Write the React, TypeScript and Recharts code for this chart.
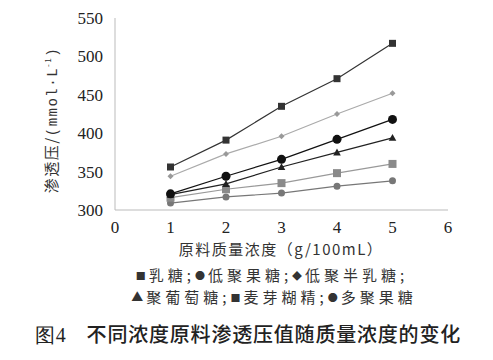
import React from "react";
import { LineChart, Line, XAxis, YAxis } from "recharts";

const concentrations = [1, 2, 3, 4, 5];
const lactose = [356, 391, 435, 471, 517];
const oligoFructose = [309, 317, 322, 331, 338];
const oligoGalactose = [344, 373, 396, 425, 452];
const polyGlucose = [320, 334, 356, 375, 394];
const maltodextrin = [316, 327, 335, 348, 360];
const polyFructose = [321, 344, 366, 392, 418];
const xTicks = [0, 1, 2, 3, 4, 5, 6];
const yTicks = [300, 350, 400, 450, 500, 550];
const legendLine1 = [
  { sym: "■", name: "乳糖", sep: ";" },
  { sym: "●", name: "低聚果糖", sep: ";" },
  { sym: "◆", name: "低聚半乳糖", sep: ";" },
];
const legendLine2 = [
  { sym: "▲", name: "聚葡萄糖", sep: ";" },
  { sym: "■", name: "麦芽糊精", sep: ";" },
  { sym: "●", name: "多聚果糖", sep: "" },
];

const data = concentrations.map((c, i) => ({
  c,
  lactose: lactose[i],
  oligoFructose: oligoFructose[i],
  oligoGalactose: oligoGalactose[i],
  polyGlucose: polyGlucose[i],
  maltodextrin: maltodextrin[i],
  polyFructose: polyFructose[i],
}));

const square = (size: number, fill: string) => (props: any) => {
  const { cx, cy, index } = props;
  if (cx == null || cy == null) return <g key={index} />;
  return <rect key={index} x={cx - size / 2} y={cy - size / 2} width={size} height={size} fill={fill} />;
};
const circle = (r: number, fill: string) => (props: any) => {
  const { cx, cy, index } = props;
  if (cx == null || cy == null) return <g key={index} />;
  return <circle key={index} cx={cx} cy={cy} r={r} fill={fill} />;
};
const diamond = (r: number, fill: string) => (props: any) => {
  const { cx, cy, index } = props;
  if (cx == null || cy == null) return <g key={index} />;
  return (
    <path key={index} d={`M${cx},${cy - r}L${cx + r},${cy}L${cx},${cy + r}L${cx - r},${cy}Z`} fill={fill} />
  );
};
const triangle = (r: number, fill: string) => (props: any) => {
  const { cx, cy, index } = props;
  if (cx == null || cy == null) return <g key={index} />;
  return (
    <path key={index} d={`M${cx},${cy - r}L${cx + r},${cy + r * 0.8}L${cx - r},${cy + r * 0.8}Z`} fill={fill} />
  );
};

const serif = "'Liberation Serif', 'DejaVu Serif', serif";
const cjk = "'Noto Sans CJK SC', sans-serif";
const mono = "'Liberation Mono', 'DejaVu Sans Mono', monospace";

function LegendRow({ items, top, center }: { items: typeof legendLine1; top: number; center: number }) {
  return (
    <div
      style={{
        position: "absolute",
        left: center - 200,
        width: 400,
        top,
        textAlign: "center",
        fontFamily: cjk,
        fontSize: 15,
        color: "#333",
        letterSpacing: 4,
        whiteSpace: "nowrap",
      }}
    >
      {items.map((it, i) => (
        <span key={i}>
          <span style={{ fontSize: it.sym === "▲" ? 12 : 10, letterSpacing: 3, verticalAlign: "1px" }}>{it.sym}</span>
          {it.name}
          {it.sep}
        </span>
      ))}
    </div>
  );
}

export default function App() {
  return (
    <div style={{ position: "absolute", left: 0, top: 0, width: 493, height: 360, background: "#fff" }}>
      <LineChart
        width={493}
        height={240}
        data={data}
        margin={{ top: 18, right: 45, left: 0, bottom: 0 }}
      >
        <XAxis
          type="number"
          dataKey="c"
          domain={[0, 6]}
          ticks={xTicks}
          tickLine={false}
          tickSize={0}
          tickMargin={11}
          height={30}
          stroke="#bbb"
          tick={{ fill: "#222", fontSize: 17, fontFamily: serif }}
        />
        <YAxis
          type="number"
          domain={[300, 550]}
          ticks={yTicks}
          tickLine={false}
          tickSize={0}
          tickMargin={12}
          width={115}
          stroke="#bbb"
          tick={{ fill: "#222", fontSize: 17, fontFamily: serif }}
        />
        <Line dataKey="oligoFructose" stroke="#777" strokeWidth={1.2} dot={circle(3.5, "#777")} isAnimationActive={false} />
        <Line dataKey="maltodextrin" stroke="#999" strokeWidth={1.2} dot={square(8, "#8a8a8a")} isAnimationActive={false} />
        <Line dataKey="polyGlucose" stroke="#222" strokeWidth={1.2} dot={triangle(3.8, "#222")} isAnimationActive={false} />
        <Line dataKey="polyFructose" stroke="#111" strokeWidth={1.2} dot={circle(4.5, "#111")} isAnimationActive={false} />
        <Line dataKey="oligoGalactose" stroke="#aaa" strokeWidth={1.2} dot={diamond(3, "#999")} isAnimationActive={false} />
        <Line dataKey="lactose" stroke="#333" strokeWidth={1.2} dot={square(7, "#333")} isAnimationActive={false} />
      </LineChart>

      <div
        style={{
          position: "absolute",
          left: 50,
          top: 120,
          transform: "translate(-50%, -50%) rotate(-90deg)",
          whiteSpace: "nowrap",
          fontFamily: cjk,
          fontSize: 15,
          color: "#333",
          letterSpacing: 1.5,
        }}
      >
        渗透压/<span style={{ fontFamily: mono, fontSize: 14 }}>(mmol·L</span>
        <sup style={{ fontSize: 8 }}>-1</sup>
        <span style={{ fontFamily: mono, fontSize: 14 }}>)</span>
      </div>

      <div
        style={{
          position: "absolute",
          left: 0,
          width: 562,
          top: 238,
          textAlign: "center",
          fontFamily: cjk,
          fontSize: 15,
          color: "#333",
          letterSpacing: 1.5,
          whiteSpace: "nowrap",
        }}
      >
        原料质量浓度（g/100mL）
      </div>
      <LegendRow items={legendLine1} top={264} center={272} />
      <LegendRow items={legendLine2} top={286} center={274} />
      <div
        style={{
          position: "absolute",
          left: 35,
          top: 319,
          fontFamily: cjk,
          fontSize: 20,
          fontWeight: 500,
          color: "#222",
          whiteSpace: "nowrap",
          letterSpacing: 0.8,
        }}
      >
        <span style={{ fontFamily: serif, fontWeight: 400 }}>图4</span>
        <span style={{ display: "inline-block", width: 20 }} />
        不同浓度原料渗透压值随质量浓度的变化
      </div>
    </div>
  );
}
